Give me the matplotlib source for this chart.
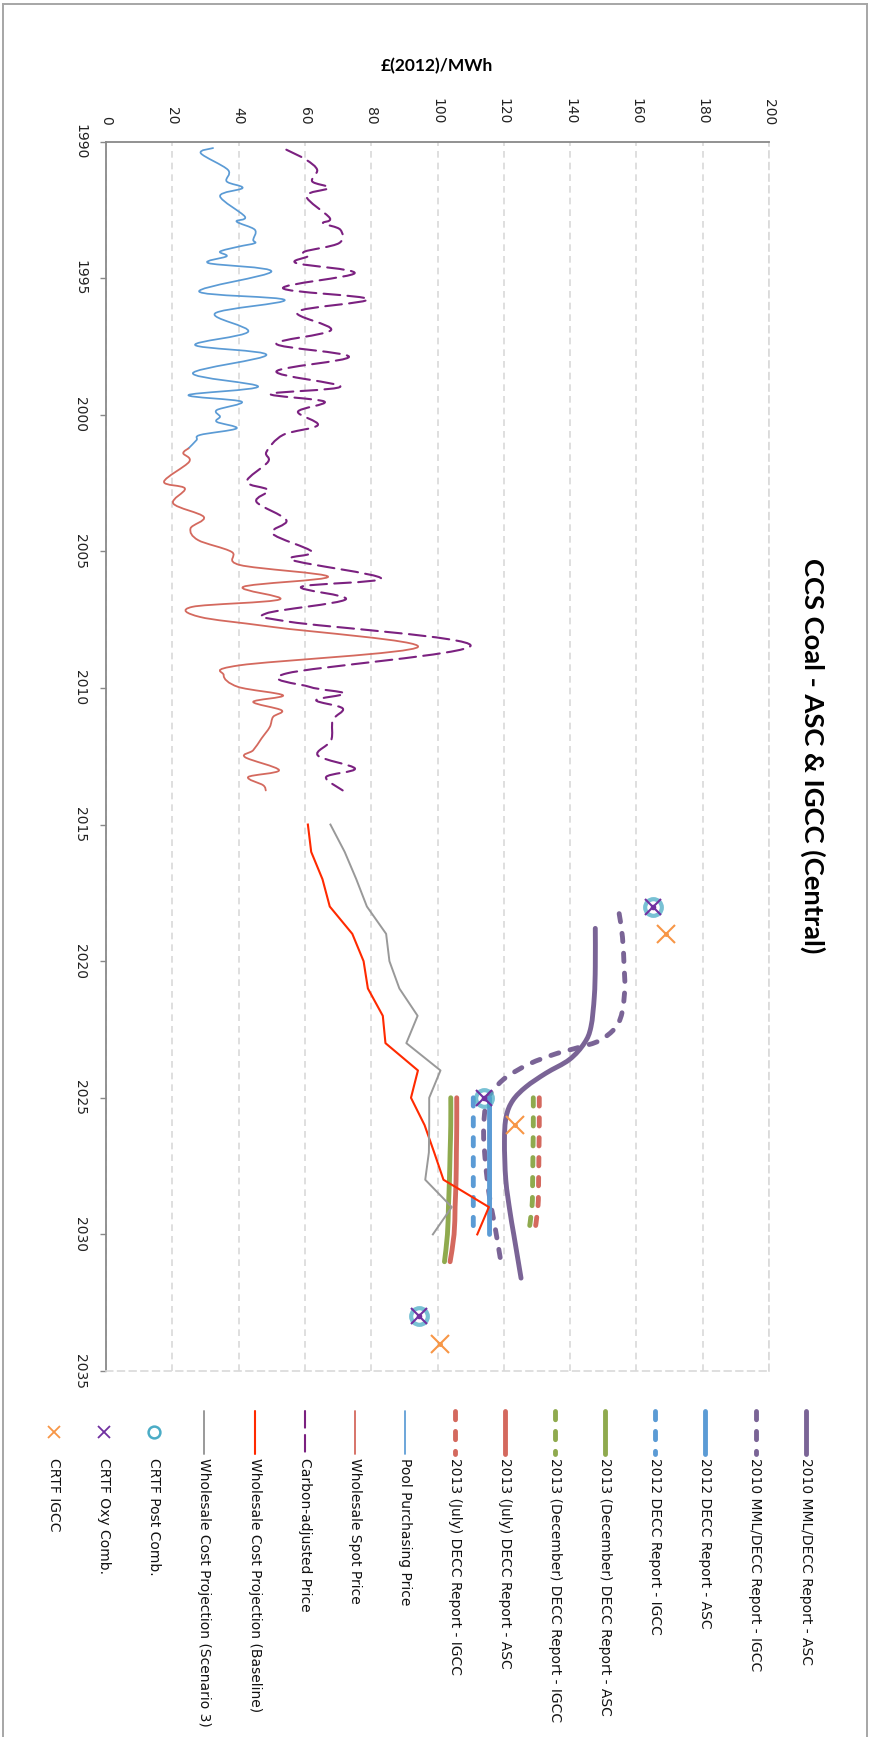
import numpy as np
import matplotlib
matplotlib.use('Agg')
from matplotlib import pyplot as plt
from matplotlib.path import Path
from matplotlib.patches import PathPatch
from matplotlib.lines import Line2D

# ---- data ----
pool_years = [1990.24, 1990.43, 1991.04, 1991.46, 1991.70, 1992.00, 1992.75, 1992.93, 1993.23, 1993.60,
              1993.72, 1993.85, 1994.03, 1994.20, 1994.45, 1994.76, 1995.49, 1995.80, 1996.29, 1996.96,
              1997.45, 1997.81, 1998.48, 1998.97, 1999.28, 1999.52, 1999.83, 2000.07, 2000.26, 2000.50,
              2000.74, 2000.93, 2001.23]
pool_vals = [32.3, 28.6, 36.8, 36.4, 41.2, 34.4, 41.9, 39.4, 44.9, 44.4,
             44.9, 39.9, 34.4, 36.4, 30.9, 49.9, 28.1, 53.9, 32.9, 42.9,
             26.9, 48.4, 26.2, 45.9, 24.9, 40.9, 33.4, 34.4, 33.4, 39.4,
             28.4, 27.3, 24.9]

spot_years = [2001.23, 2001.41, 2001.72, 2002.45, 2002.70, 2003.25, 2003.74, 2004.16, 2004.59, 2005.02,
              2005.50, 2005.93, 2006.30, 2006.76, 2007.03, 2007.40, 2007.77, 2008.50, 2009.17, 2009.53,
              2009.96, 2010.27, 2010.51, 2010.82, 2011.06, 2011.43, 2011.85, 2012.28, 2012.53, 2013.01,
              2013.26, 2013.56, 2013.75]
spot_vals = [24.9, 23.3, 25.1, 17.5, 23.8, 20.3, 29.5, 25.5, 27.8, 37.9,
             40.4, 67.0, 41.4, 52.4, 26.1, 28.3, 50.4, 94.1, 40.4, 35.5,
             39.8, 53.4, 44.4, 53.0, 50.4, 49.4, 46.9, 44.4, 41.9, 52.2,
             42.9, 47.4, 48.2]

carbon_years = [1990.30, 1990.67, 1991.04, 1991.46, 1991.70, 1992.00, 1992.80, 1992.99, 1993.23, 1993.72,
                1994.03, 1994.20, 1994.45, 1994.82, 1995.37, 1995.77, 1996.23, 1996.90, 1997.41, 1997.88,
                1998.42, 1998.97, 1999.24, 1999.52, 1999.89, 2000.38, 2000.74, 2001.36, 2001.72, 2002.45,
                2002.76, 2003.19, 2003.86, 2004.35, 2005.02, 2005.32, 2005.99, 2006.30, 2006.76, 2007.27,
                2007.58, 2008.45, 2009.47, 2009.96, 2010.20, 2010.45, 2010.75, 2011.18, 2011.92, 2012.47,
                2012.95, 2013.26, 2013.75]
carbon_vals = [54.4, 60.4, 63.7, 62.2, 67.2, 60.4, 67.5, 65.5, 70.7, 70.3,
               59.9, 60.9, 57.4, 75.0, 53.4, 79.0, 57.7, 67.9, 51.4, 73.3,
               51.4, 70.7, 49.6, 65.9, 57.9, 63.9, 53.4, 48.4, 48.9, 42.4,
               48.9, 45.4, 54.4, 50.2, 62.2, 56.2, 83.0, 58.9, 72.3, 48.4,
               55.4, 110.0, 54.4, 61.4, 71.9, 63.4, 71.4, 68.4, 67.9, 63.9,
               75.1, 66.4, 71.4]

proj_years = [2015, 2016, 2017, 2018, 2019, 2020, 2021, 2022, 2023, 2024, 2025, 2026, 2027, 2028, 2029, 2030]
baseline_vals = [60.9, 61.9, 65.3, 67.5, 74.3, 77.7, 79.0, 83.5, 84.3, 94.1, 92.0, 96.1, 99.0, 101.8, 115.5, 112.0]
scen3_vals = [67.7, 72.0, 75.5, 78.7, 84.5, 85.5, 88.5, 94.0, 90.6, 100.9, 97.5, 97.5, 97.4, 96.3, 104.3, 98.6]

mml_asc_years = [2018.8, 2020.2, 2021.3, 2022.4, 2023.0, 2023.6, 2024.1, 2024.6, 2025.1, 2025.7,
                 2026.6, 2028.0, 2029.2, 2030.0, 2031.6]
mml_asc_vals = [147.6, 147.6, 147.3, 146.3, 144.3, 139.8, 132.7, 126.7, 122.7, 120.7,
                120.2, 120.6, 121.9, 123.0, 125.2]
mml_igcc_years = [2018.26, 2019.12, 2020.22, 2020.95, 2021.81, 2022.42, 2022.91, 2023.15, 2023.39,
                  2023.76, 2024.25, 2024.74, 2025.16, 2026.2, 2027.42, 2028.64, 2029.62, 2031.06]
mml_igcc_vals = [154.8, 155.8, 156.3, 156.5, 155.8, 153.8, 148.8, 142.8, 135.7,
                 127.7, 120.7, 116.7, 114.7, 113.9, 114.5, 115.7, 117.2, 119.2]

decc_years = [2025, 2026, 2027, 2028, 2029, 2030]
decc_years_long = [2025, 2026, 2027, 2028, 2029, 2030, 2031]
decc12_asc = [115.7, 115.7, 115.7, 115.7, 115.7, 115.7]
decc12_igcc = [110.8, 110.8, 110.8, 110.8, 110.8, 110.8]
dec13_asc = [104.0, 104.0, 103.8, 103.6, 103.3, 103.0, 102.1]
dec13_igcc = [128.9, 128.9, 128.8, 128.7, 128.5, 127.4]
jul13_asc = [105.8, 105.8, 105.7, 105.6, 105.3, 105.0, 103.8]
jul13_igcc = [130.7, 130.7, 130.6, 130.5, 130.3, 129.2]

crtf_years = [2018, 2025, 2033]
crtf_post = [165.0, 114.0, 94.4]
crtf_oxy = [165.0, 114.0, 94.4]
crtf_igcc_years = [2019, 2026, 2034]
crtf_igcc = [169.0, 123.3, 100.8]

value_ticks = list(range(0, 201, 20))
year_ticks = list(range(1990, 2036, 5))

# colours
c_mml = '#7A6496'
c_blue = '#5B9BD5'
c_green = '#8FAA4E'
c_red = '#D4695E'
c_carbon = '#7B2180'
c_base = '#FF2A00'
c_gray = '#999999'
c_post = '#4BACC6'
c_oxy = '#7030A0'
c_igcc = '#F79646'

W, H = 869, 1737
fig = plt.figure(figsize=(W / 100, H / 100), dpi=100)
ax = fig.add_axes([106 / W, 1 - 1371 / H, (769 - 106) / W, (1371 - 141.5) / H])


def smooth(xs, ys):
    # excel-like smoothed line through the points (catmull-rom as bezier)
    pts = np.column_stack([xs, ys]).astype(float)
    n = len(pts)
    verts = [pts[0]]
    codes = [Path.MOVETO]
    for i in range(n - 1):
        p0 = pts[max(i - 1, 0)]
        p1 = pts[i]
        p2 = pts[i + 1]
        p3 = pts[min(i + 2, n - 1)]
        verts += [p1 + (p2 - p0) / 6, p2 - (p3 - p1) / 6, p2]
        codes += [Path.CURVE4] * 3
    return Path(verts, codes)


def curve(years, vals, color, lw, ls='-', z=2):
    p = PathPatch(smooth(vals, years), fill=False, edgecolor=color, lw=lw, linestyle=ls,
                  capstyle='round', joinstyle='round', zorder=z)
    ax.add_patch(p)


thick_dash = (0, (1.7, 2.4))
thin_dash = (0, (8, 3.5))

curve(mml_asc_years, mml_asc_vals, c_mml, 3.5)
curve(mml_igcc_years, mml_igcc_vals, c_mml, 3.5, thick_dash)
curve(decc_years, decc12_asc, c_blue, 3.5)
curve(decc_years, decc12_igcc, c_blue, 3.5, thick_dash)
curve(decc_years_long, dec13_asc, c_green, 3.5)
curve(decc_years, dec13_igcc, c_green, 3.5, thick_dash)
curve(decc_years_long, jul13_asc, c_red, 3.5)
curve(decc_years, jul13_igcc, c_red, 3.5, thick_dash)
curve(pool_years, pool_vals, c_blue, 1.25)
curve(spot_years, spot_vals, c_red, 1.3)
curve(carbon_years, carbon_vals, c_carbon, 1.5, thin_dash)
ax.plot(baseline_vals, proj_years, color=c_base, lw=1.5, zorder=3)
ax.plot(scen3_vals, proj_years, color=c_gray, lw=1.4, zorder=3)

ax.plot(crtf_post, crtf_years, ls='none', marker='o', ms=12, mfc='none', mec=c_post, mew=3, alpha=0.75, zorder=4)
ax.plot(crtf_oxy, crtf_years, ls='none', marker='x', ms=12, mec=c_oxy, mew=1.5, zorder=5)
ax.plot(crtf_oxy, crtf_years, ls='none', marker='o', ms=3, mfc=c_oxy, mec=c_oxy, zorder=5)
ax.plot(crtf_igcc, crtf_igcc_years, ls='none', marker='x', ms=13, mec=c_igcc, mew=1.5, zorder=5)
ax.plot(crtf_igcc, crtf_igcc_years, ls='none', marker='o', ms=2.5, mfc=c_igcc, mec=c_igcc, zorder=5)

ax.set_xlim(0, 200)
ax.set_ylim(2035, 1990)
ax.set_xticks(value_ticks)
ax.set_yticks(year_ticks)
ax.xaxis.tick_top()
ax.tick_params(axis='x', length=0, pad=12, labelrotation=-90, labelsize=10, labelcolor='#222222')
ax.tick_params(axis='y', length=4.5, width=1, color='#888888', pad=9, labelrotation=-90,
               labelsize=10, labelcolor='#222222')
for lbl in ax.get_yticklabels():
    lbl.set_verticalalignment('center')

grid_dash = (0, (4, 3))
ax.xaxis.grid(True, color='#D9D9D9', lw=1.2, linestyle=grid_dash)
ax.set_axisbelow(True)
for s in ['left', 'top']:
    ax.spines[s].set_color('#898989')
    ax.spines[s].set_linewidth(1.3)
for s in ['right', 'bottom']:
    ax.spines[s].set_color('#D9D9D9')
    ax.spines[s].set_linewidth(1.2)
    ax.spines[s].set_linestyle(grid_dash)

# titles
fig.text(813 / W, 1 - 756 / H, 'CCS Coal - ASC & IGCC (Central)', rotation=-90, ha='center', va='center',
         fontsize=19.7, fontweight='bold', family='Lato')
fig.text(437 / W, 1 - 66 / H, '£(2012)/MWh', ha='center', va='center', fontsize=12.5,
         fontweight='bold', family='Lato')

# outer border (left, top, right)
for xs, ys in [([3, 3], [0, H - 4]), ([3, 866.5], [H - 4, H - 4]), ([866.5, 866.5], [0, H - 4])]:
    fig.add_artist(Line2D([xs[0] / W, xs[1] / W], [ys[0] / H, ys[1] / H],
                          color='#A6A6A6', lw=1.4, transform=fig.transFigure))

# legend (drawn by hand, rotated like the chart)
legend_items = [
    ('2010 MML/DECC Report - ASC', c_mml, 3.5, '-', None),
    ('2010 MML/DECC Report - IGCC', c_mml, 3.5, thick_dash, None),
    ('2012 DECC Report - ASC', c_blue, 3.5, '-', None),
    ('2012 DECC Report - IGCC', c_blue, 3.5, thick_dash, None),
    ('2013 (December) DECC Report - ASC', c_green, 3.5, '-', None),
    ('2013 (December) DECC Report - IGCC', c_green, 3.5, thick_dash, None),
    ('2013 (July) DECC Report - ASC', c_red, 3.5, '-', None),
    ('2013 (July) DECC Report - IGCC', c_red, 3.5, thick_dash, None),
    ('Pool Purchasing Price', c_blue, 1.25, '-', None),
    ('Wholesale Spot Price', c_red, 1.3, '-', None),
    ('Carbon-adjusted Price', c_carbon, 1.5, thin_dash, None),
    ('Wholesale Cost Projection (Baseline)', c_base, 1.5, '-', None),
    ('Wholesale Cost Projection (Scenario 3)', c_gray, 1.4, '-', None),
    ('CRTF Post Comb.', c_post, 0, None, 'o'),
    ('CRTF Oxy Comb.', c_oxy, 0, None, 'x'),
    ('CRTF IGCC', c_igcc, 0, None, 'x'),
]
for i, (label, col, lw, ls, mk) in enumerate(legend_items):
    xp = (805.6 - 50.1 * i) / W
    if mk is None:
        fig.add_artist(Line2D([xp, xp], [1 - 1411 / H, 1 - 1454 / H], color=col, lw=lw, linestyle=ls,
                              dash_capstyle='round', solid_capstyle='round', transform=fig.transFigure))
    elif mk == 'o':
        fig.add_artist(Line2D([xp], [1 - 1432 / H], ls='none', marker='o', ms=8.5, mfc='none', mec=col,
                              mew=1.8, transform=fig.transFigure))
    else:
        fig.add_artist(Line2D([xp], [1 - 1432 / H], ls='none', marker='x', ms=8, mec=col,
                              mew=1.3, transform=fig.transFigure))
    fig.text(xp, 1 - 1458 / H, label, rotation=-90, ha='center', va='top', fontsize=10, color='#111111')

fig.savefig('out.png', dpi=100)
